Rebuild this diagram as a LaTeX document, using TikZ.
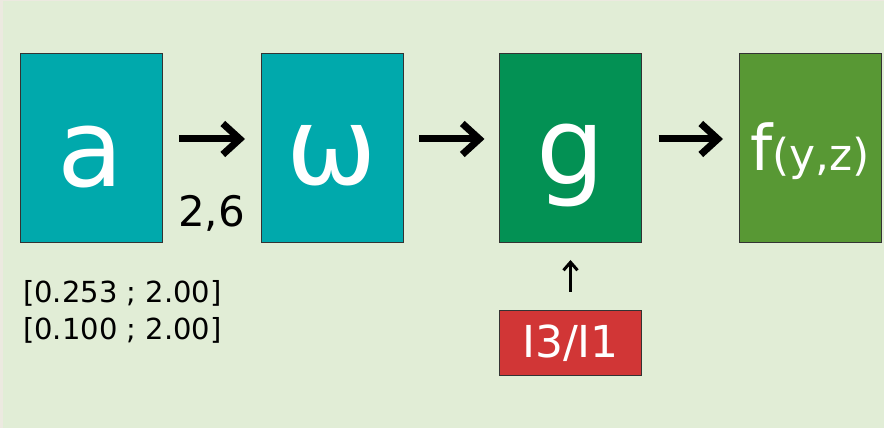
\documentclass[tikz,border=0pt]{standalone}
\usepackage{fontspec}
\setmainfont{DejaVu Sans}
\usetikzlibrary{arrows.meta}
\definecolor{edgec}{HTML}{ECE9E0}
\definecolor{bgc}{HTML}{E1EDD6}
\definecolor{tealc}{HTML}{00A9AC}
\definecolor{gc}{HTML}{039154}
\definecolor{fc}{HTML}{589834}
\definecolor{redc}{HTML}{D13636}
\tikzset{
  blk/.style={draw=black!80, line width=1pt, minimum width=142pt, minimum height=189pt, inner sep=0pt, outer sep=0pt},
  bigtxt/.style={anchor=base, text=white, inner sep=0pt, font=\fontsize{108}{108}\selectfont},
  fatarrow/.style={line width=7pt, -{Straight Barb[length=17pt, width=31pt, line cap=butt]}},
  thinarrow/.style={line width=3pt, -{Straight Barb[length=8pt, width=14pt]}},
  lbl/.style={text=black, inner sep=0pt},
}
\begin{document}
\begin{tikzpicture}[x=1pt,y=1pt]
\useasboundingbox (0,0) rectangle (884,428);
\fill[edgec] (0,0) rectangle (884,428);
\fill[bgc] (3,0) rectangle (884,427);
% boxes
\node[blk, fill=tealc] (a) at (91,279.5) {};
\node[blk, fill=tealc] (w) at (332,279.5) {};
\node[blk, fill=gc] (g) at (570.5,279.5) {};
\node[blk, fill=fc] (f) at (810,279.5) {};
\node[draw=black!80, line width=1pt, fill=redc, minimum width=142pt, minimum height=65pt, inner sep=0pt, outer sep=0pt] (r) at (570.5,84.5) {};
% texts
\node[bigtxt] (ta) at (91,241) {a};
\node[bigtxt] (tw) at (332,243) {ω};
\node[bigtxt] (tg) at (570.5,243) {g};
\node[anchor=base, text=white, inner sep=0pt] (tf) at (810,257) {{\fontsize{63}{63}\selectfont f}{\fontsize{44}{44}\selectfont (y,z)}};
\node[anchor=base, text=white, inner sep=0pt, font=\fontsize{44}{44}\selectfont] (tr) at (570.5,70) {I3/I1};
\node[lbl, anchor=base west, align=left, font=\fontsize{29}{37}\selectfont] (rng) at (23,88) {{[0.253 ; 2.00]}\\{[0.100 ; 2.00]}};
% connectors
\draw[fatarrow, shorten <=17pt, shorten >=16pt] ([yshift=9.5pt]a.east) -- ([yshift=9.5pt]w.west)
  node[pos=0.5, yshift=-88pt, lbl, anchor=base, font=\fontsize{42}{42}\selectfont] (l26) {2,6};
\draw[fatarrow, shorten <=16pt, shorten >=15pt] ([yshift=9.5pt]w.east) -- ([yshift=9.5pt]g.west);
\draw[fatarrow, shorten <=17pt, shorten >=16pt] ([yshift=9.5pt]g.east) -- ([yshift=9.5pt]f.west);
\draw[thinarrow, shorten <=19pt, shorten >=17pt] (r.north) -- (g.south);
\end{tikzpicture}
\end{document}
